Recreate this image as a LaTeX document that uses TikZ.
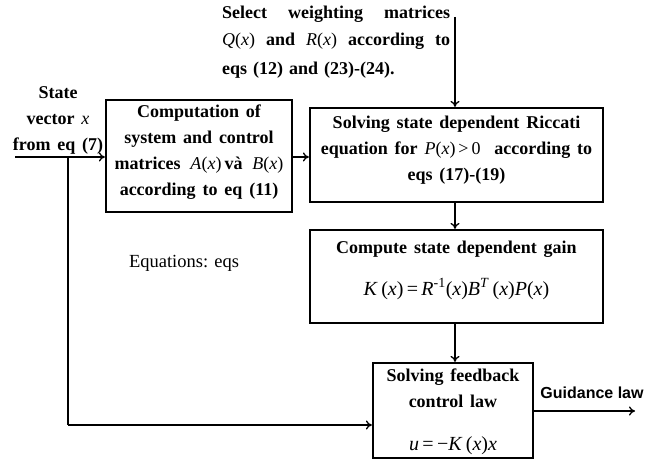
\documentclass[tikz,border=0pt]{standalone}
\usepackage{fontspec}
\setmainfont{Liberation Serif}
\newfontfamily\arialfont{Liberation Sans}
\usetikzlibrary{arrows.meta}
\newcommand\fx[1]{{\normalfont\textit{#1}(\textit{x})}}
\newcommand\vi[1]{{\normalfont\textit{#1}}}
\newcommand\widesp{\spaceskip=0.38em plus 0.1em\relax}
\newcommand\formfont{\normalfont\fontsize{20}{24}\selectfont}
\begin{document}
\begin{tikzpicture}[x=1pt,y=-1pt,
  frame/.style={draw,line width=2.2pt,inner sep=0pt},
  lbl/.style={inner sep=0pt,align=center,
    font=\bfseries\fontsize{18}{26}\selectfont\widesp},
  conn/.style={line width=1.3pt,-{To[length=6pt,width=9pt,line width=1.3pt]}},
  plain/.style={line width=1.3pt}]
\useasboundingbox (0,0) rectangle (646,462);
% frames
\node[frame,minimum width=186pt,minimum height=112pt] (b1) at (199,156) {};
\node[frame,minimum width=293pt,minimum height=94pt] (b2) at (456.5,155) {};
\node[frame,minimum width=293pt,minimum height=93pt] (b3) at (456.5,276.5) {};
\node[frame,minimum width=160pt,minimum height=95pt] (b4) at (453,410.5) {};
% box texts
\node[lbl] (t1) at (199,152.5)
  {Computation of\\system and control\\matrices \,\fx{A}\,và\, \fx{B}\\according to eq (11)};
\node[lbl] (t2) at (456.5,150)
  {Solving state dependent Riccati\\equation for \fx{P}{\normalfont\,>\,0}\ \ according to\\eqs (17)-(19)};
\node[lbl] (t3) at (456.5,270)
  {Compute state dependent gain\\[16pt]{\formfont\textit{K}\,(\textit{x})\,=\,\textit{R}\textsuperscript{-1}(\textit{x})\textit{B}\textsuperscript{\textit{T}}\,(\textit{x})\textit{P}(\textit{x})}};
\node[lbl] (t4) at (453,411.5)
  {Solving feedback\\control law\\[17pt]{\formfont\textit{u}\,=\,\textminus\textit{K}\,(\textit{x})\textit{x}}};
% labels
\node[lbl,align=left,text width=228pt,anchor=north west] (sel) at (222,6)
  {\makebox[228pt][l]{Select\hfill weighting\hfill matrices}\\[1pt]
   \makebox[228pt][l]{\fx{Q}\hfill and\hfill \fx{R}\hfill according\hfill to}\\[3pt]
   eqs (12) and (23)-(24).};
\node[lbl] (st) at (58,120) {State\\vector \vi{x}\\from eq (7)};
\node[inner sep=0pt,font=\arialfont\bfseries\fontsize{16}{20}\selectfont] (gl) at (592,393) {Guidance law};
\node[inner sep=0pt,font=\fontsize{18.5}{22}\selectfont] (eqn) at (184,263) {Equations: eqs};
% coordinates
\coordinate (in) at (15,157);
\coordinate (tap) at (68,157);
\coordinate (fb) at (68,425);
\coordinate (top) at (455,17);
\coordinate (out) at (635,411);
% connectors
\draw[conn] (in) -- (in -| b1.west);
\draw[plain] (tap) -- (fb);
\draw[conn] (fb) -- (fb -| b4.west);
\draw[conn] (b1.east |- tap) -- (tap -| b2.west);
\draw[conn] (top) -- (top |- b2.north);
\draw[conn] (top |- b2.south) -- (top |- b3.north);
\draw[conn] (top |- b3.south) -- (top |- b4.north);
\draw[conn] (b4.east |- out) -- (out);
\end{tikzpicture}
\end{document}
